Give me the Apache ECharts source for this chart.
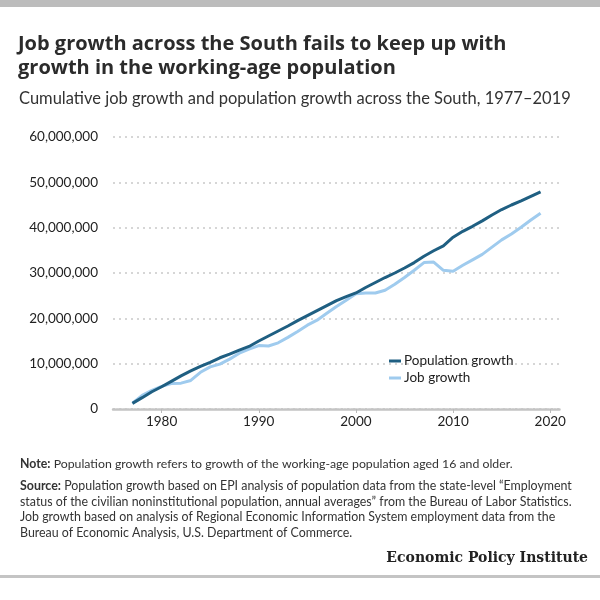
<!DOCTYPE html>
<html>
<head>
<meta charset="utf-8">
<script src="https://cdn.jsdelivr.net/npm/echarts@6/dist/echarts.min.js"></script>
<style>
html,body{margin:0;padding:0;background:#fff;}
#chart{width:600px;height:600px;}
</style>
</head>
<body>
<div id="chart"></div>
<script>
var years = [1977,1978,1979,1980,1981,1982,1983,1984,1985,1986,1987,1988,1989,1990,1991,1992,1993,1994,1995,1996,1997,1998,1999,2000,2001,2002,2003,2004,2005,2006,2007,2008,2009,2010,2011,2012,2013,2014,2015,2016,2017,2018,2019];
var populationGrowth = [1250000,2500000,3800000,4900000,6100000,7300000,8400000,9400000,10300000,11300000,12100000,13000000,13800000,15000000,16100000,17200000,18300000,19500000,20600000,21700000,22800000,23900000,24800000,25600000,26800000,27900000,29000000,30000000,31100000,32300000,33700000,34900000,36000000,37900000,39200000,40300000,41500000,42800000,44000000,45000000,45900000,46900000,47900000];
var jobGrowth = [1300000,3000000,4100000,5000000,5600000,5700000,6300000,8100000,9300000,9900000,11000000,12300000,13200000,14000000,13900000,14600000,15800000,17100000,18500000,19600000,21100000,22600000,24000000,25400000,25600000,25600000,26200000,27500000,29000000,30600000,32300000,32400000,30600000,30400000,31700000,32900000,34100000,35700000,37300000,38600000,40100000,41700000,43200000];
var xTickLabels = [1980,1990,2000,2010,2020];
var seriesNames = ['Population growth','Job growth'];

function pairs(vals){ return years.map(function(y,i){ return [y, vals[i]]; }); }

var FONT = 'Lato, "Open Sans", sans-serif';
var TFONT = '"Open Sans", Lato, sans-serif';
var chart = echarts.init(document.getElementById('chart'), null, {renderer:'canvas'});
chart.setOption({
  animation:false,
  backgroundColor:'#fff',
  textStyle:{fontFamily:FONT},
  grid:{left:113, right:40, top:137, bottom:191, containLabel:false},
  legend:{
    orient:'vertical', left:384, top:349, itemWidth:12, itemHeight:3, itemGap:3,
    icon:'rect',
    textStyle:{fontFamily:FONT, fontSize:13.5, color:'#222', padding:[0,0,0,-2]},
    data:seriesNames
  },
  xAxis:{
    type:'value', min:1975, max:2021, interval:5,
    axisLine:{show:true, lineStyle:{color:'#c4c4c4', width:2.5, type:[2,1.5]}},
    axisTick:{show:true, length:4, customValues:xTickLabels, lineStyle:{color:'#bbb', width:1}},
    axisLabel:{customValues:xTickLabels, color:'#222', fontSize:13.5, fontFamily:FONT, margin:6, formatter:function(v){return String(v);}},
    splitLine:{show:false}
  },
  yAxis:{
    type:'value', min:0, max:60000000, interval:10000000,
    axisLine:{show:false}, axisTick:{show:false},
    axisLabel:{color:'#222', fontSize:13.5, fontFamily:FONT, margin:15, formatter:function(v){return v.toLocaleString('en-US');}},
    splitLine:{show:true, lineStyle:{color:'#d6d6d6', width:2, type:[2,4]}}
  },
  series:[
    {name:seriesNames[0], type:'line', data:pairs(populationGrowth), showSymbol:false, symbol:'none', z:3,
     lineStyle:{color:'#1f5f82', width:3}, itemStyle:{color:'#1f5f82'}},
    {name:seriesNames[1], type:'line', data:pairs(jobGrowth), showSymbol:false, symbol:'none', z:2,
     lineStyle:{color:'#9fcbee', width:3}, itemStyle:{color:'#9fcbee'}}
  ],
  graphic:[
    {type:'rect', shape:{x:0,y:0,width:600,height:7}, style:{fill:'#bcbcbc'}},
    {type:'rect', shape:{x:0,y:575,width:600,height:3}, style:{fill:'#c4c4c4'}},
    {type:'text', x:18, y:44, style:{text:'Job growth across the South fails to keep up with', font:'bold 20px '+TFONT, fill:'#2b2b2b', textVerticalAlign:'middle'}},
    {type:'text', x:18, y:68, style:{text:'growth in the working-age population', font:'bold 20px '+TFONT, fill:'#2b2b2b', textVerticalAlign:'middle'}},
    {type:'text', x:19, y:99, style:{text:'Cumulative job growth and population growth across the South, 1977\u20132019', font:'16.5px '+FONT, fill:'#333', textVerticalAlign:'middle'}},
    {type:'text', x:20, y:464, style:{text:'{b|Note:} Population growth refers to growth of the working-age population aged 16 and older.', font:'12.3px '+FONT, fill:'#333', textVerticalAlign:'middle', rich:{b:{fontWeight:'bold', fontSize:12.3, fontFamily:FONT, fill:'#333'}}}},
    {type:'text', x:20, y:486, style:{text:'{b|Source:} Population growth based on EPI analysis of population data from the state-level \u201cEmployment', font:'12.4px '+FONT, fill:'#333', textVerticalAlign:'middle', rich:{b:{fontWeight:'bold', fontSize:12.4, fontFamily:FONT, fill:'#333'}}}},
    {type:'text', x:20, y:502, style:{text:'status of the civilian noninstitutional population, annual averages\u201d from the Bureau of Labor Statistics.', font:'12.4px '+FONT, fill:'#333', textVerticalAlign:'middle'}},
    {type:'text', x:20, y:517, style:{text:'Job growth based on analysis of Regional Economic Information System employment data from the', font:'12.4px '+FONT, fill:'#333', textVerticalAlign:'middle'}},
    {type:'text', x:20, y:533, style:{text:'Bureau of Economic Analysis, U.S. Department of Commerce.', font:'12.4px '+FONT, fill:'#333', textVerticalAlign:'middle'}},
    {type:'text', x:588, y:558, style:{text:'Economic Policy Institute', font:'bold 14px "DejaVu Serif", "Liberation Serif", serif', fill:'#222', textAlign:'right', textVerticalAlign:'middle'}}
  ]
});
</script>
</body>
</html>
